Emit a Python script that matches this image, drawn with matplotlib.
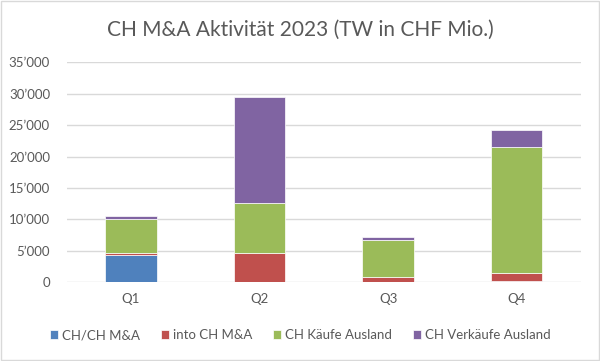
import matplotlib.pyplot as plt
import numpy as np

plt.rcParams['font.family'] = ['Lato', 'DejaVu Sans']

quarters = ["Q1", "Q2", "Q3", "Q4"]
ch_ch = [4300, 0, 0, 250]
into_ch = [400, 4700, 890, 1180]
ch_kaeufe = [5300, 7900, 5800, 20130]
ch_verkaeufe = [500, 16900, 470, 2700]

series = [ch_ch, into_ch, ch_kaeufe, ch_verkaeufe]
labels = ["CH/CH M&A", "into CH M&A", "CH Käufe Ausland", "CH Verkäufe Ausland"]
colors = ["#4F81BD", "#C0504D", "#9BBB59", "#8064A2"]
text_col = "#595959"

fig = plt.figure(figsize=(6.0, 3.61), dpi=100)
ax = fig.add_axes([66.7 / 600, 1 - 282.3 / 361, (581 - 66.7) / 600, (282.3 - 62.3) / 361])

x = np.arange(len(quarters))
bottom = np.zeros(len(quarters))
for vals, lab, col in zip(series, labels, colors):
    ax.bar(x, vals, width=0.4, bottom=bottom, color=col, label=lab,
           edgecolor="white", linewidth=0.5, zorder=3)
    bottom += np.array(vals)

ax.set_xlim(-0.5, 3.5)
ax.set_ylim(0, 35000)
ax.set_yticks(np.arange(0, 35001, 5000))
ax.set_yticklabels(["0" if v == 0 else f"{v // 1000}’000" for v in range(0, 35001, 5000)])
ax.set_xticks(x)
ax.set_xticklabels(quarters)
ax.grid(axis="y", color="#D9D9D9", linewidth=1, zorder=0)
for s in ax.spines.values():
    s.set_visible(False)
ax.tick_params(length=0, colors=text_col, labelsize=9.5)
ax.tick_params(axis="x", pad=8)
ax.tick_params(axis="y", pad=12)

fig.suptitle("CH M&A Aktivität 2023 (TW in CHF Mio.)", y=1 - 30 / 361, va="center",
             fontsize=15, color=text_col)

fig.legend(*ax.get_legend_handles_labels(), loc="center", bbox_to_anchor=(0.5, 1 - 335 / 361),
           ncol=4, frameon=False, fontsize=9.5, labelcolor=text_col, handlelength=0.6,
           handleheight=0.6, handletextpad=0.3, columnspacing=1.6)

fig.patches.append(plt.Rectangle((0.002, 0.003), 0.996, 0.994, transform=fig.transFigure,
                                 fill=False, edgecolor="#D9D9D9", linewidth=1))

fig.savefig("out.png", dpi=100)
